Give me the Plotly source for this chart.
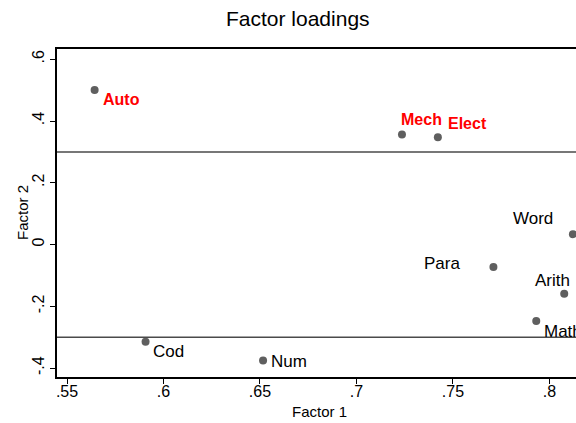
import plotly.graph_objects as go

# Factor loadings of each test on the first two factors
tests = ["Auto", "Mech", "Elect", "Word", "Para", "Arith", "Math", "Cod", "Num"]
factor1 = [0.5643, 0.7236, 0.7422, 0.8122, 0.7710, 0.8077, 0.7932, 0.5907, 0.6516]
factor2 = [0.5006, 0.3560, 0.3476, 0.0337, -0.0731, -0.1596, -0.2480, -0.3150, -0.3754]
highlighted = ["Auto", "Mech", "Elect"]

# Reference cut-offs drawn across the plot
cutoffs = [0.3, -0.3]

xticks = [0.55, 0.6, 0.65, 0.7, 0.75, 0.8]
xticklabels = [".55", ".6", ".65", ".7", ".75", ".8"]
yticks = [-0.4, -0.2, 0, 0.2, 0.4, 0.6]
yticklabels = ["-.4", "-.2", "0", ".2", ".4", ".6"]

# Label placement per test: (xanchor, xshift, yshift)
label_pos = {
    "Auto": ("left", 6, -10),
    "Mech": ("left", -3, 15),
    "Elect": ("left", 8, 14),
    "Word": ("right", -18, 16),
    "Para": ("right", -31, 4),
    "Arith": ("right", 8, 13),
    "Math": ("left", 6, -10),
    "Cod": ("left", 5, -10),
    "Num": ("left", 6, -1),
}

FONT = "Liberation Sans, Arial, Helvetica, sans-serif"

fig = go.Figure()
fig.add_trace(go.Scatter(
    x=factor1, y=factor2, mode="markers",
    marker=dict(size=8, color="#5f5f5f", line=dict(width=0)),
    hoverinfo="skip", showlegend=False,
))

for name, fx, fy in zip(tests, factor1, factor2):
    anchor, dx, dy = label_pos[name]
    hot = name in highlighted
    fig.add_annotation(
        x=fx, y=fy, text=f"<b>{name}</b>" if hot else name, showarrow=False,
        xanchor=anchor, yanchor="middle", xshift=dx, yshift=dy,
        font=dict(family=FONT, size=16 if hot else 17,
                  color="#ff0000" if hot else "#000000"),
    )

for c in cutoffs:
    fig.add_shape(type="line", xref="paper", x0=0, x1=1, yref="y", y0=c, y1=c,
                  line=dict(color="#4a4a4a", width=1.5))

# Axis titles
fig.add_annotation(text="Factor 1", xref="paper", yref="paper", x=0.505, y=0,
                   xanchor="center", yanchor="middle", yshift=-34, showarrow=False,
                   font=dict(family=FONT, size=15, color="#000000"))
fig.add_annotation(text="Factor 2", xref="paper", yref="paper", x=0, y=0.5,
                   xanchor="center", yanchor="middle", xshift=-35, textangle=-90,
                   showarrow=False, font=dict(family=FONT, size=15, color="#000000"))

fig.update_layout(
    width=576, height=423,
    margin=dict(l=57, r=0, t=49, b=46),
    paper_bgcolor="white", plot_bgcolor="white",
    font=dict(family=FONT, color="#000000"),
    title=dict(text="Factor loadings", x=0.517, xref="container", xanchor="center",
               y=0.957, yref="container", yanchor="middle",
               font=dict(size=21, color="#000000")),
    xaxis=dict(
        range=[0.5448, 0.8138], tickvals=xticks, ticktext=xticklabels,
        showgrid=False, zeroline=False,
        showline=True, linecolor="#000000", linewidth=1.5, mirror=True,
        ticks="outside", ticklen=5, tickwidth=1.2, tickcolor="#000000",
        tickfont=dict(size=16), ticklabelstandoff=-6,
    ),
    yaxis=dict(
        range=[-0.429, 0.6333], tickvals=yticks, ticktext=yticklabels,
        showgrid=False, zeroline=False,
        showline=True, linecolor="#000000", linewidth=1.5,
        ticks="outside", ticklen=5, tickwidth=1.2, tickcolor="#000000",
        tickangle=-90, tickfont=dict(size=16),
    ),
)

fig.write_html("out.html")
